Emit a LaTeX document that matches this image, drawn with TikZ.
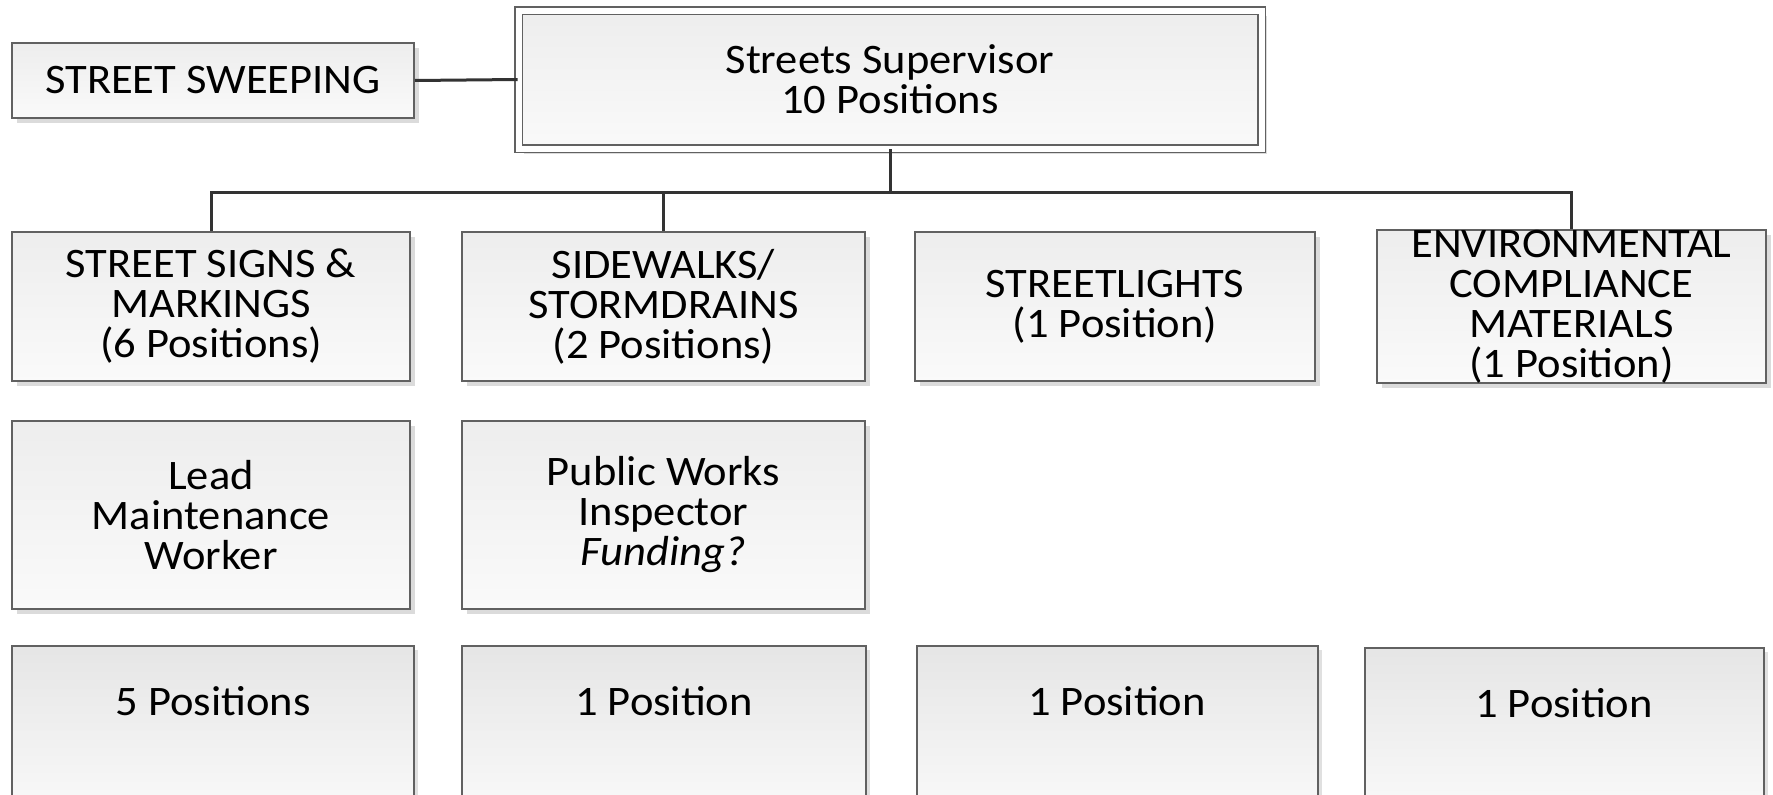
\documentclass[tikz,border=0pt]{standalone}
\usepackage{fontspec}
\setmainfont{Carlito}[FakeStretch=1.06]
\usetikzlibrary{shadows}
\begin{document}
\begin{tikzpicture}[x=1pt,y=-1pt,
  box/.style={draw=black!62, line width=1.6pt, top color=black!7, bottom color=black!2,
    drop shadow={shadow xshift=5pt, shadow yshift=-5pt, fill=black!14, opacity=1},
    align=center, inner sep=0pt, font=\fontsize{42}{40}\selectfont},
  lowbox/.style={draw=black!62, line width=1.6pt, top color=black!10, bottom color=black!1,
    drop shadow={shadow xshift=4pt, shadow yshift=-4pt, fill=black!12, opacity=1}},
  lbl/.style={font=\fontsize{42}{40}\selectfont, inner sep=0pt},
  conn/.style={draw=black!80, line width=3pt}]
\useasboundingbox (0,0) rectangle (1773,795);
\clip (0,0) rectangle (1773,795);
\fill[white] (0,0) rectangle (1773,795);
% top row
\node[box, minimum width=402pt, minimum height=75pt] (sweep) at (213,80.5) {STREET SWEEPING};
\node[box, double=white, double distance=6pt, minimum width=743pt, minimum height=138pt] (sup) at (890,79.5) {Streets Supervisor\\10 Positions};
% departments
\node[box, minimum width=398pt, minimum height=149pt] (signs) at (211,306.5) {STREET SIGNS \&\\MARKINGS\\(6 Positions)};
\node[box, minimum width=403pt, minimum height=149pt] (side) at (663.5,306.5) {SIDEWALKS/\\STORMDRAINS\\(2 Positions)};
\node[box, minimum width=400pt, minimum height=149pt] (lights) at (1115,306.5) {STREETLIGHTS\\(1 Position)};
\node[box, minimum width=389pt, minimum height=149pt] (env) at (1571.5,306.5) {ENVIRONMENTAL\\COMPLIANCE\\MATERIALS\\(1 Position)};
% second row
\node[box, minimum width=398pt, minimum height=188pt] (lead) at (211,515) {Lead\\Maintenance\\Worker};
\node[box, minimum width=403pt, minimum height=188pt] (insp) at (663.5,515) {Public Works\\Inspector\\\textit{Funding?}};
% bottom row
\path[lowbox] (12,646) rectangle (414,840);
\path[lowbox] (462,646) rectangle (866,840);
\path[lowbox] (917,646) rectangle (1318,840);
\path[lowbox] (1365,648) rectangle (1764,840);
\node[lbl] (p1) at (213,701) {5 Positions};
\node[lbl] (p2) at (664,701) {1 Position};
\node[lbl] (p3) at (1117,701) {1 Position};
\node[lbl] (p4) at (1564,703) {1 Position};
% connectors
\draw[conn] (sweep.east) -- (sup.west);
\draw[conn] (sup.south) -- (sup.south |- 0,192) coordinate (hub);
\draw[conn] (signs.north) |- (hub) -| (env.north);
\draw[conn] (side.north) -- (side.north |- hub);
\end{tikzpicture}
\end{document}
